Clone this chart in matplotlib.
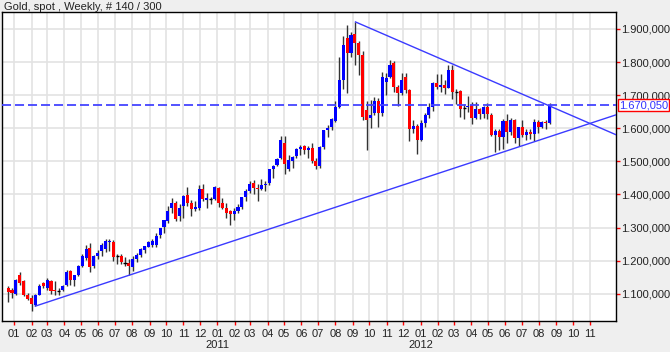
import numpy as np
import pandas as pd
import matplotlib
matplotlib.use("Agg")
import matplotlib.pyplot as plt
import matplotlib.dates as mdates
import matplotlib.transforms as mtransforms

plt.rcParams['font.family'] = ['Liberation Sans', 'DejaVu Sans']

# weekly candles, week starting 2009-12-21
first_week = '2009-12-21'
opens = [1117, 1113, 1101, 1156, 1138, 1098, 1086, 1065, 1098, 1133,
         1117, 1140, 1111, 1108, 1111, 1128, 1168, 1141, 1158, 1183,
         1208, 1238, 1185, 1215, 1228, 1236, 1256, 1258, 1213, 1213,
         1194, 1194, 1180, 1206, 1218, 1232, 1242, 1246, 1246, 1279,
         1302, 1319, 1359, 1374, 1336, 1366, 1399, 1374, 1356, 1359,
         1416, 1384, 1386, 1386, 1419, 1374, 1359, 1350, 1340, 1351,
         1362, 1392, 1410, 1435, 1421, 1418, 1430, 1435, 1476, 1490,
         1511, 1556, 1478, 1500, 1515, 1537, 1546, 1535, 1540, 1500,
         1486, 1542, 1596, 1605, 1622, 1663, 1745, 1872, 1827, 1886,
         1856, 1822, 1656, 1631, 1646, 1683, 1646, 1740, 1756, 1796,
         1726, 1706, 1756, 1716, 1598, 1606, 1565, 1616, 1639, 1665,
         1738, 1725, 1730, 1723, 1775, 1710, 1712, 1662, 1665, 1669,
         1632, 1659, 1642, 1664, 1640, 1580, 1591, 1573, 1622, 1590,
         1626, 1572, 1604, 1579, 1590, 1583, 1619, 1603, 1620, 1616]
highs = [1125, 1118, 1144, 1165, 1143, 1103, 1098, 1101, 1131, 1135,
         1148, 1143, 1138, 1118, 1128, 1171, 1171, 1158, 1188, 1221,
         1248, 1253, 1218, 1231, 1253, 1265, 1266, 1263, 1221, 1220,
         1210, 1204, 1213, 1224, 1237, 1245, 1260, 1265, 1283, 1300,
         1323, 1364, 1389, 1379, 1370, 1398, 1424, 1383, 1380, 1429,
         1432, 1405, 1393, 1425, 1424, 1388, 1375, 1352, 1360, 1371,
         1392, 1418, 1440, 1445, 1433, 1448, 1440, 1478, 1490, 1510,
         1577, 1577, 1520, 1516, 1540, 1550, 1550, 1547, 1556, 1510,
         1545, 1595, 1610, 1632, 1682, 1815, 1878, 1912, 1890, 1921,
         1862, 1832, 1681, 1684, 1695, 1692, 1771, 1766, 1806, 1803,
         1730, 1766, 1766, 1720, 1626, 1612, 1626, 1647, 1675, 1740,
         1764, 1763, 1745, 1790, 1792, 1718, 1716, 1672, 1697, 1680,
         1680, 1661, 1668, 1675, 1647, 1598, 1597, 1627, 1642, 1630,
         1628, 1605, 1626, 1597, 1598, 1627, 1624, 1623, 1626, 1675]
lows = [1075, 1088, 1096, 1128, 1093, 1081, 1048, 1062, 1095, 1118,
        1113, 1101, 1098, 1098, 1108, 1125, 1128, 1125, 1153, 1181,
        1203, 1166, 1178, 1205, 1215, 1225, 1230, 1200, 1190, 1190,
        1183, 1158, 1170, 1195, 1212, 1222, 1240, 1240, 1242, 1268,
        1285, 1314, 1344, 1320, 1320, 1330, 1365, 1335, 1350, 1354,
        1379, 1360, 1372, 1382, 1362, 1355, 1330, 1308, 1323, 1344,
        1355, 1380, 1405, 1400, 1380, 1415, 1412, 1430, 1450, 1485,
        1507, 1462, 1470, 1480, 1510, 1520, 1521, 1510, 1495, 1478,
        1480, 1538, 1575, 1595, 1620, 1660, 1720, 1705, 1815, 1792,
        1762, 1625, 1535, 1600, 1640, 1605, 1636, 1701, 1752, 1710,
        1666, 1701, 1705, 1562, 1587, 1523, 1562, 1603, 1630, 1652,
        1717, 1710, 1703, 1722, 1688, 1673, 1635, 1627, 1650, 1612,
        1628, 1627, 1631, 1627, 1577, 1527, 1533, 1536, 1555, 1580,
        1554, 1547, 1575, 1565, 1568, 1563, 1585, 1600, 1598, 1612]
closes = [1105, 1102, 1142, 1133, 1098, 1085, 1068, 1098, 1125, 1125,
          1141, 1108, 1110, 1108, 1125, 1165, 1141, 1156, 1183, 1213,
          1235, 1181, 1213, 1223, 1248, 1261, 1260, 1212, 1213, 1197,
          1194, 1183, 1206, 1218, 1236, 1244, 1256, 1259, 1276, 1299,
          1322, 1349, 1374, 1327, 1360, 1396, 1374, 1356, 1362, 1416,
          1386, 1388, 1386, 1422, 1374, 1359, 1344, 1340, 1351, 1362,
          1392, 1410, 1432, 1421, 1418, 1430, 1431, 1476, 1486, 1506,
          1565, 1491, 1505, 1512, 1537, 1543, 1533, 1540, 1500, 1486,
          1542, 1594, 1602, 1628, 1663, 1745, 1852, 1828, 1882, 1856,
          1821, 1635, 1626, 1641, 1681, 1646, 1756, 1753, 1791, 1726,
          1706, 1746, 1716, 1598, 1608, 1565, 1616, 1639, 1665, 1738,
          1725, 1730, 1723, 1775, 1710, 1710, 1658, 1662, 1668, 1632,
          1659, 1642, 1664, 1644, 1580, 1591, 1573, 1622, 1590, 1626,
          1572, 1604, 1579, 1590, 1583, 1619, 1603, 1620, 1616, 1670.05]

last_price = 1670.05

# trendlines (anchor points, extended to the right edge)
resist_dates = ['2011-09-06', '2012-03-04']
resist_prices = [1921, 1790]
support_dates = ['2010-02-08', '2012-11-01']
support_prices = [1063, 1615]

yticks = [1100, 1200, 1300, 1400, 1500, 1600, 1700, 1800, 1900]
x_start, x_end = '2009-12-10', '2012-12-17'
y_min, y_max = 1018, 1951


def de_fmt(v):
    s = f"{v:,.3f}"
    return s.replace(',', 'X').replace('.', ',').replace('X', '.')


weeks = pd.date_range(first_week, periods=len(closes), freq='7D')
x = mdates.date2num(weeks)
o = np.array(opens, float)
h = np.array(highs, float)
l = np.array(lows, float)
c = np.array(closes, float)

fig = plt.figure(figsize=(6.7, 3.52), dpi=100, facecolor='#efefef')
ax = fig.add_axes([2 / 670, 1 - 321 / 352, 614 / 670, 309 / 352])
ax.set_facecolor('white')

x0 = mdates.date2num(pd.Timestamp(x_start))
x1 = mdates.date2num(pd.Timestamp(x_end))
ax.set_xlim(x0, x1)
ax.set_ylim(y_min, y_max)

# grid
months = pd.date_range('2010-01-01', '2012-11-01', freq='MS')
for m in mdates.date2num(months):
    ax.axvline(m, color='#e3e3e3', lw=1.2, zorder=0)
for t in yticks:
    ax.axhline(t, color='#e3e3e3', lw=1.2, zorder=0)

# candles
ax.vlines(x, l, h, color='#333333', lw=1, zorder=2)
up = c > o
down = c < o
flat = c == o
ax.bar(x[up], (c - o)[up], bottom=o[up], width=5.5, color='#0000ff', zorder=3, linewidth=0)
ax.bar(x[down], (c - o)[down], bottom=o[down], width=5.5, color='#ff0000', zorder=3, linewidth=0)
ax.hlines(c[flat], x[flat] - 2.75, x[flat] + 2.75, color='black', lw=1, zorder=3)


def trend(dates, prices):
    xd = mdates.date2num(pd.to_datetime(dates))
    k = (prices[1] - prices[0]) / (xd[1] - xd[0])
    return [xd[0], x1], [prices[0], prices[0] + k * (x1 - xd[0])]


for d, p in [(resist_dates, resist_prices), (support_dates, support_prices)]:
    tx, ty = trend(d, p)
    ax.plot(tx, ty, color='#3a3aff', lw=1, zorder=4)

ax.axhline(last_price, color='#4444ff', lw=1.3, dashes=(5, 2.2), zorder=4)

# axes styling
for s in ax.spines.values():
    s.set_color('black')
    s.set_linewidth(1)
ax.yaxis.tick_right()
ax.set_yticks(yticks)
ax.set_yticklabels([de_fmt(t) for t in yticks])
ax.tick_params(axis='y', direction='out', length=3, width=1, color='red',
               labelsize=8, pad=1, labelcolor='#222222')
ax.set_xticks(mdates.date2num(months))
ax.set_xticklabels([m.strftime('%m') for m in months])
ax.tick_params(axis='x', direction='out', length=3, width=1, color='red',
               labelsize=8, pad=3, labelcolor='#222222')

trans = mtransforms.blended_transform_factory(ax.transData, ax.transAxes)
for yr in ['2011', '2012']:
    ax.text(mdates.date2num(pd.Timestamp(yr + '-01-01')), -0.078, yr,
            transform=trans, ha='center', va='center', fontsize=8, color='#222222')

tr2 = mtransforms.blended_transform_factory(ax.transAxes, ax.transData)
ax.text(1.005, last_price, de_fmt(last_price), transform=tr2, ha='left', va='center',
        fontsize=8, color='#3333ff',
        bbox=dict(boxstyle='square,pad=0.1', facecolor='white', edgecolor='red', lw=1))

fig.text(4 / 670, 1 - 2 / 352, 'Gold, spot , Weekly, # 140 / 300', ha='left', va='top',
         fontsize=8, color='#222222')

fig.savefig('out.png', dpi=100, facecolor=fig.get_facecolor())
